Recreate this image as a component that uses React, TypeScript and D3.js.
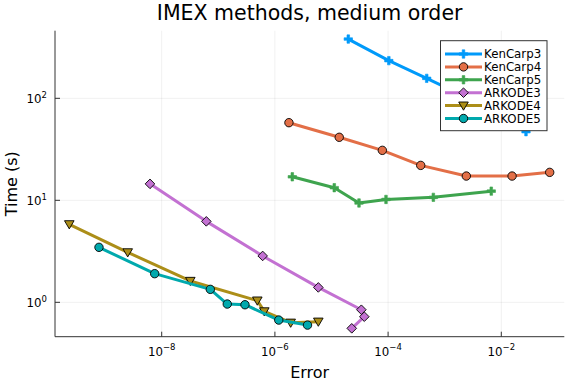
import React from "react";
import * as d3 from "d3";

// error vs time, one array pair per method
const kenCarp3Err = [1.98e-5, 1.03e-4, 4.81e-4, 1.86e-3, 7.1e-3, 2.73e-2];
const kenCarp3Time = [381, 234, 157, 110, 73.5, 47.1];
const kenCarp4Err = [1.77e-6, 1.37e-5, 7.91e-5, 3.77e-4, 2.41e-3, 1.55e-2, 7.16e-2];
const kenCarp4Time = [57.7, 41.5, 30.9, 22.0, 17.3, 17.3, 18.8];
const kenCarp5Err = [2.03e-6, 1.12e-5, 3.06e-5, 9.18e-5, 6.3e-4, 6.65e-3];
const kenCarp5Time = [17.0, 13.3, 9.42, 10.2, 10.7, 12.3];
const arkode3Err = [6.21e-9, 6.14e-8, 6.08e-7, 5.85e-6, 3.37e-5, 3.8e-5, 2.28e-5];
const arkode3Time = [14.5, 6.22, 2.85, 1.4, 0.846, 0.723, 0.556];
const arkode4Err = [2.33e-10, 2.51e-9, 3.2e-8, 4.89e-7, 6.5e-7, 1.9e-6, 5.85e-6];
const arkode4Time = [5.82, 3.09, 1.62, 1.04, 0.815, 0.631, 0.646];
const arkode5Err = [7.8e-10, 7.52e-9, 7.23e-8, 1.44e-7, 2.96e-7, 1.17e-6, 3.77e-6];
const arkode5Time = [3.46, 1.91, 1.34, 0.962, 0.947, 0.67, 0.598];

const seriesNames = ["KenCarp3", "KenCarp4", "KenCarp5", "ARKODE3", "ARKODE4", "ARKODE5"];
const xTicks = [-8, -6, -4, -2];
const yTicks = [0, 1, 2];

const colors = ["#009afa", "#e36f47", "#3ea44e", "#c371d2", "#ac8e18", "#00a9ad"];
const shapes = ["cross", "circle", "cross", "diamond", "dtriangle", "circle"];

const W = 576;
const H = 384;
const left = 55;
const right = 564.3;
const top = 30.7;
const bottom = 336.7;
const font = "DejaVu Sans";

const x = d3.scaleLog().domain([Math.pow(10, -9.885), Math.pow(10, -0.887)]).range([left, right]);
const y = d3.scaleLog().domain([Math.pow(10, -0.337), Math.pow(10, 2.663)]).range([bottom, top]);

const series = [
  [kenCarp3Err, kenCarp3Time],
  [kenCarp4Err, kenCarp4Time],
  [kenCarp5Err, kenCarp5Time],
  [arkode3Err, arkode3Time],
  [arkode4Err, arkode4Time],
  [arkode5Err, arkode5Time],
].map(([e, t], i) => ({
  name: seriesNames[i],
  color: colors[i],
  shape: shapes[i],
  pts: e.map((v, j) => [v, t[j]] as [number, number]),
}));

const line = d3
  .line<[number, number]>()
  .x((d) => x(d[0]))
  .y((d) => y(d[1]));

function Marker({ shape, color, cx, cy }: { shape: string; color: string; cx: number; cy: number }) {
  if (shape === "circle")
    return <circle cx={cx} cy={cy} r={4.2} fill={color} stroke="#000" strokeWidth={0.9} />;
  if (shape === "diamond")
    return (
      <path
        d={`M${cx},${cy - 4.8}L${cx + 4.8},${cy}L${cx},${cy + 4.8}L${cx - 4.8},${cy}Z`}
        fill={color}
        stroke="#000"
        strokeWidth={0.9}
      />
    );
  if (shape === "dtriangle")
    return (
      <path
        d={`M${cx - 4.8},${cy - 3.6}L${cx + 4.8},${cy - 3.6}L${cx},${cy + 4.6}Z`}
        fill={color}
        stroke="#000"
        strokeWidth={0.9}
      />
    );
  const a = 4.2;
  const b = 1.3;
  return (
    <path
      d={`M${cx - b},${cy - a}H${cx + b}V${cy - b}H${cx + a}V${cy + b}H${cx + b}V${cy + a}H${cx - b}V${cy + b}H${cx - a}V${cy - b}H${cx - b}Z`}
      fill={color}
      stroke={color}
      strokeWidth={0.6}
    />
  );
}

const App = () => {
  const legX = 440.5;
  const legY = 40.7;
  const rowH = 12.9;

  return (
    <svg width={W} height={H} style={{ position: "absolute", left: 0, top: 0 }} fontFamily={font}>
      <rect width={W} height={H} fill="#fff" />
      {/* grid */}
      {xTicks.map((t) => (
        <line key={"gx" + t} x1={x(Math.pow(10, t))} x2={x(Math.pow(10, t))} y1={top} y2={bottom} stroke="#000" strokeOpacity={0.1} strokeWidth={0.6} />
      ))}
      {yTicks.map((t) => (
        <line key={"gy" + t} x1={left} x2={right} y1={y(Math.pow(10, t))} y2={y(Math.pow(10, t))} stroke="#000" strokeOpacity={0.1} strokeWidth={0.6} />
      ))}
      {/* axes */}
      <line x1={left} x2={left} y1={top} y2={bottom} stroke="#333" strokeWidth={1} />
      <line x1={left} x2={right} y1={bottom} y2={bottom} stroke="#333" strokeWidth={1} />
      {xTicks.map((t) => {
        const px = x(Math.pow(10, t));
        return (
          <g key={"tx" + t}>
            <line x1={px} x2={px} y1={bottom} y2={bottom - 5} stroke="#333" strokeWidth={1} />
            <text x={px} y={356} textAnchor="middle" fontSize={11.8} fill="#000">
              10<tspan dy={-6} fontSize={8.5}>{"\u2212" + -t}</tspan>
            </text>
          </g>
        );
      })}
      {yTicks.map((t) => {
        const py = y(Math.pow(10, t));
        return (
          <g key={"ty" + t}>
            <line x1={left} x2={left + 5} y1={py} y2={py} stroke="#333" strokeWidth={1} />
            <text x={47} y={py + 4.5} textAnchor="end" fontSize={11.8} fill="#000">
              10<tspan dy={-5} fontSize={8.5}>{t}</tspan>
            </text>
          </g>
        );
      })}
      {/* series */}
      {series.map((s) => (
        <g key={s.name}>
          <path d={line(s.pts) || ""} fill="none" stroke={s.color} strokeWidth={3} strokeLinejoin="round" />
          {s.pts.map((p, j) => (
            <Marker key={j} shape={s.shape} color={s.color} cx={x(p[0])} cy={y(p[1])} />
          ))}
        </g>
      ))}
      {/* labels */}
      <text x={(left + right) / 2} y={20} textAnchor="middle" fontSize={20.5} fill="#000">
        IMEX methods, medium order
      </text>
      <text x={(left + right) / 2} y={378} textAnchor="middle" fontSize={16} fill="#000">
        Error
      </text>
      <text transform={`translate(17,${(top + bottom) / 2}) rotate(-90)`} textAnchor="middle" fontSize={16} fill="#000">
        Time (s)
      </text>
      {/* legend */}
      <rect x={legX} y={legY} width={106.5} height={90} fill="#fff" stroke="#333" strokeWidth={1} />
      {series.map((s, i) => {
        const cy = legY + 13.3 + i * rowH;
        return (
          <g key={"l" + s.name}>
            <line x1={445} x2={482} y1={cy} y2={cy} stroke={s.color} strokeWidth={3} />
            <Marker shape={s.shape} color={s.color} cx={463.5} cy={cy} />
            <text x={484} y={cy + 4.2} fontSize={11.8} fill="#000">
              {s.name}
            </text>
          </g>
        );
      })}
    </svg>
  );
};

export default App;
